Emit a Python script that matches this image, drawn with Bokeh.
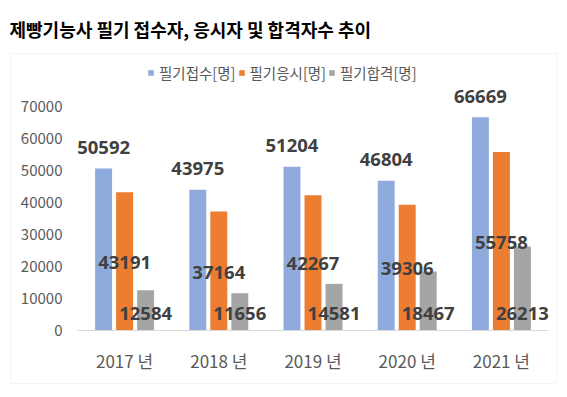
from bokeh.plotting import figure
from bokeh.models import (ColumnDataSource, Range1d, Legend, LegendItem,
                          BoxAnnotation, Label, FixedTicker, NumeralTickFormatter)
from bokeh.transform import dodge
from bokeh.core.properties import value
from bokeh.embed import file_html
from bokeh.resources import INLINE

# ---- data ----
years = ["2017 년", "2018 년", "2019 년", "2020 년", "2021 년"]
applied = [50592, 43975, 51204, 46804, 66669]   # 필기접수[명]
took = [43191, 37164, 42267, 39306, 55758]      # 필기응시[명]
passed = [12584, 11656, 14581, 18467, 26213]    # 필기합격[명]
series_names = ["필기접수[명]", "필기응시[명]", "필기합격[명]"]
y_ticks = [0, 10000, 20000, 30000, 40000, 50000, 60000, 70000]
title_text = "제빵기능사 필기 접수자, 응시자 및 합격자수 추이"

colors = ["#8FAADC", "#ED7D31", "#A5A5A5"]
KR = "Noto Sans CJK KR"
LBL = "Noto Sans"

pos = list(range(len(years)))
src = ColumnDataSource(dict(
    pos=pos, applied=applied, took=took, passed=passed,
    applied_t=[str(v) for v in applied],
    took_t=[str(v) for v in took],
    passed_t=[str(v) for v in passed],
    took_half=[v / 2 for v in took],
    zero=[0] * len(years),
))

W, H = 567, 397
# plot area in page pixels: x 77..548, y 106 (70000) .. 330 (0)
PX_L, PX_R, PY_T, PY_B = 77.0, 548.0, 106.0, 330.0
cat_w = (PX_R - PX_L) / len(years)
y_per_px = (y_ticks[-1] - y_ticks[0]) / (PY_B - PY_T)
x_range = Range1d(-0.5 - PX_L / cat_w, -0.5 + (W - PX_L) / cat_w)
y_range = Range1d(-(H - PY_B) * y_per_px, y_ticks[-1] + PY_T * y_per_px)

p = figure(width=W, height=H, output_backend="svg", toolbar_location=None,
           x_range=x_range, y_range=y_range,
           min_border_left=0, min_border_right=0, min_border_top=0, min_border_bottom=0)
p.title.visible = False
p.outline_line_color = None
p.grid.visible = False
p.background_fill_color = "white"
p.border_fill_color = "white"

off = 0.223
bw = 0.18
r1 = p.vbar(x=dodge("pos", -off), top="applied", width=bw, source=src,
            fill_color=colors[0], line_color=None)
r2 = p.vbar(x=dodge("pos", 0), top="took", width=bw, source=src,
            fill_color=colors[1], line_color=None)
r3 = p.vbar(x=dodge("pos", off), top="passed", width=bw, source=src,
            fill_color=colors[2], line_color=None)

lbl_kw = dict(text_font=value(LBL), text_font_style="bold", text_font_size="18.5px",
              text_color="#404040", text_align="center", text_baseline="middle", source=src)
p.text(x=dodge("pos", -off), y="applied", text="applied_t", y_offset=-21, **lbl_kw)
p.text(x=dodge("pos", 0), y="took_half", text="took_t", y_offset=1, **lbl_kw)
p.text(x=dodge("pos", off), y="zero", text="passed_t", y_offset=-17, **lbl_kw)

# axes (placed inside the frame)
p.yaxis.fixed_location = -0.5
p.yaxis.ticker = FixedTicker(ticks=y_ticks)
p.yaxis.formatter = NumeralTickFormatter(format="0")
p.yaxis.axis_line_color = None
p.yaxis.major_tick_line_color = None
p.yaxis.minor_tick_line_color = None
p.yaxis.major_tick_out = 0
p.yaxis.major_tick_in = 0
p.yaxis.minor_tick_out = 0
p.yaxis.major_label_standoff = 15
p.yaxis.major_label_text_font = KR
p.yaxis.major_label_text_font_size = "15px"
p.yaxis.major_label_text_color = "#595959"

p.xaxis.fixed_location = 0
p.xaxis.bounds = (-0.5, len(years) - 0.5)
p.xaxis.ticker = FixedTicker(ticks=pos)
p.xaxis.major_label_overrides = {i: y for i, y in zip(pos, years)}
p.xaxis.axis_line_color = "#D9D9D9"
p.xaxis.major_tick_line_color = None
p.xaxis.minor_tick_line_color = None
p.xaxis.major_tick_out = 0
p.xaxis.major_tick_in = 0
p.xaxis.minor_tick_out = 0
p.xaxis.major_label_standoff = 17
p.xaxis.major_label_text_font = KR
p.xaxis.major_label_text_font_size = "17px"
p.xaxis.major_label_text_color = "#595959"

# legend
legend = Legend(items=[LegendItem(label=series_names[0], renderers=[r1]),
                       LegendItem(label=series_names[1], renderers=[r2]),
                       LegendItem(label=series_names[2], renderers=[r3])],
                orientation="horizontal", location=(147, H - 83),
                glyph_width=7, glyph_height=7, label_standoff=5, spacing=2,
                padding=0, margin=0, border_line_color=None, background_fill_alpha=0,
                label_text_font=KR, label_text_font_size="14.5px", label_text_color="#595959",
                label_height=18)
p.add_layout(legend, "center")

# chart box and title
p.add_layout(BoxAnnotation(left=10, right=556, bottom=H - 383, top=H - 53,
                           left_units="screen", right_units="screen",
                           bottom_units="screen", top_units="screen",
                           fill_alpha=0, line_color="#D9D9D9", line_width=1))
p.add_layout(Label(x=9, y=H - 28, x_units="screen", y_units="screen", text=title_text,
                   text_font=KR, text_font_style="bold", text_font_size="18px",
                   text_color="#000000", text_baseline="middle"))

open("out.html", "w").write(file_html(p, INLINE))
